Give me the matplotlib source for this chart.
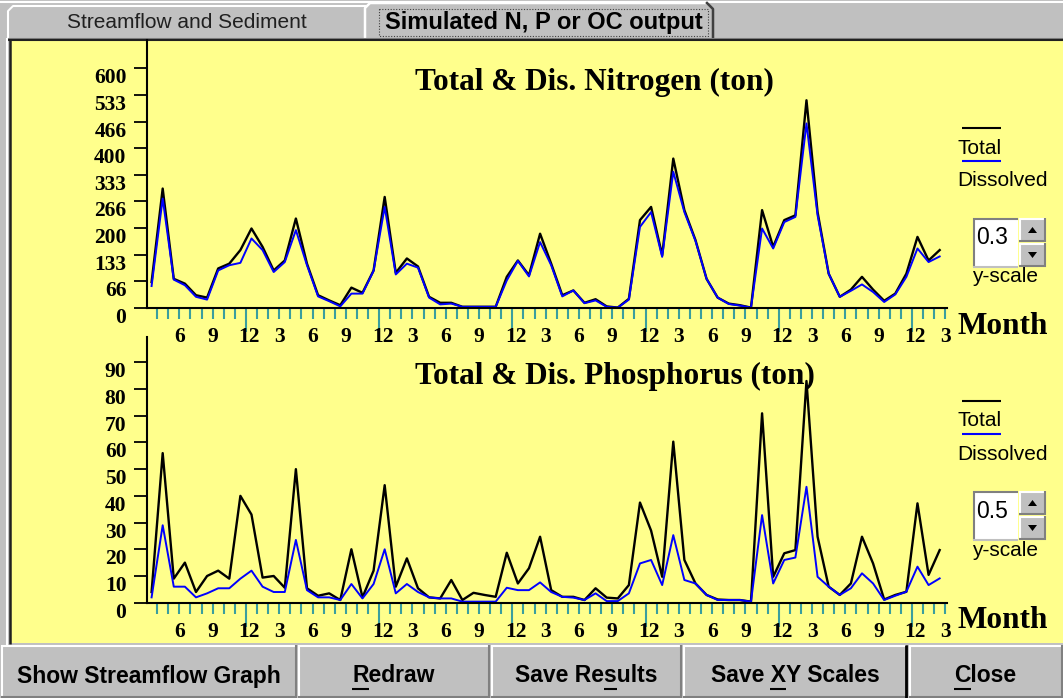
import numpy as np
import matplotlib
matplotlib.use('Agg')
import matplotlib.pyplot as plt
from matplotlib.patches import Rectangle, Polygon
import matplotlib.transforms as mtransforms
from matplotlib.font_manager import FontProperties

# monthly loads, April of year 1 to March of year 7 (72 months)
total_n = [65, 299, 73, 61, 32, 26, 99, 111, 145, 199,
           153, 94, 119, 224, 111, 32, 19, 7, 51, 38,
           94, 278, 88, 124, 104, 28, 13, 13, 3, 3,
           3, 3, 78, 119, 82, 186, 111, 32, 44, 13,
           22, 4, 1, 23, 220, 253, 132, 374, 245, 170,
           73, 26, 11, 7, 1, 245, 153, 220, 232, 520,
           240, 86, 28, 46, 78, 46, 18, 36, 86, 178,
           119, 145]
dis_n = [55, 274, 71, 57, 28, 21, 94, 107, 113, 174,
         145, 90, 115, 195, 107, 29, 17, 4, 36, 36,
         93, 253, 84, 111, 101, 26, 9, 11, 3, 3,
         3, 3, 69, 118, 79, 165, 107, 29, 44, 12,
         19, 3, 1, 21, 203, 240, 128, 341, 240, 168,
         73, 26, 10, 6, 1, 199, 149, 215, 228, 462,
         232, 86, 28, 43, 59, 40, 15, 34, 78, 149,
         115, 129]
total_p = [4, 56, 9, 15, 4, 10, 12, 9, 40, 33,
           9.4, 10, 5.6, 50, 5.4, 2.6, 3.5, 1, 20, 2,
           12, 44, 6, 16.6, 5.4, 2, 1.6, 8.5, 1, 3.7,
           2.9, 2.2, 18.7, 7.2, 12.9, 24.7, 4.7, 2.2, 2.2, 1,
           5.4, 1.9, 1.6, 6.6, 37.5, 27, 9.7, 60.3, 16, 7.2,
           2.9, 1.2, 1, 1, 0.4, 70.9, 9.7, 18.5, 19.7, 83,
           24.7, 6, 2.9, 7.2, 24.7, 14.7, 1.2, 2.9, 4.1, 37.2,
           10.4, 19.7]
dis_p = [2, 29, 6, 6, 2, 3.5, 5.4, 5.4, 9, 12,
         6, 4, 4, 23.5, 4.7, 2, 2, 1, 7, 1.6,
         7, 20, 3.5, 7, 4, 2, 1.6, 1.6, 0.4, 0.4,
         0.4, 0.4, 5.6, 4.7, 4.7, 7.6, 4, 2.2, 1.9, 1,
         3.5, 0.6, 0.6, 3.5, 14.7, 16, 6.6, 25.3, 8.5, 7.2,
         2.9, 1, 1, 1, 0.4, 32.8, 7.2, 16, 16.9, 43.4,
         9.7, 6, 2.9, 5.4, 11, 7.2, 1, 2.6, 4.1, 13.5,
         6.6, 9.1]
start_month = 4
labelled_months = [6, 9, 12, 3]
n_ylabels = ['0', '66', '133', '200', '266', '333', '400', '466', '533', '600']
p_ylabels = ['0', '10', '20', '30', '40', '50', '60', '70', '80', '90']
n_ymax, p_ymax = 600, 90

W, H = 1063, 698
GRAY = '#c0c0c0'
YELLOW = '#ffff8c'
TEAL = '#3a9e9e'
SERIF = 'Liberation Serif'
SANS = 'Liberation Sans'

fig = plt.figure(figsize=(W / 100, H / 100), dpi=100)
fig.patch.set_facecolor(GRAY)

# background axes in pixel coordinates for the window chrome
bg = fig.add_axes([0, 0, 1, 1])
bg.set_xlim(0, W)
bg.set_ylim(H, 0)
bg.axis('off')


def px_rect(x0, y0, x1, y1):
    return [x0 / W, 1 - y1 / H, (x1 - x0) / W, (y1 - y0) / H]


def hline(x0, x1, y, c, lw=1.0):
    bg.plot([x0, x1], [y, y], color=c, lw=lw, solid_capstyle='butt')


def vline(x, y0, y1, c, lw=1.0):
    bg.plot([x, x], [y0, y1], color=c, lw=lw, solid_capstyle='butt')


def raised(x0, y0, x1, y1):
    bg.add_patch(Rectangle((x0, y0), x1 - x0, y1 - y0, fc=GRAY, ec='none'))
    hline(x0, x1, y0 + 1, 'white', 1.5)
    vline(x0 + 1, y0, y1, 'white', 1.5)
    hline(x0, x1, y1 - 1, '#808080', 1.5)
    vline(x1 - 1, y0, y1, '#808080', 1.5)


# tabs
hline(0, W, 1.5, 'white', 1.5)
tab1 = Polygon([(8, 39), (8, 11), (13, 6), (365, 6), (370, 11), (370, 39)],
               closed=True, fc=GRAY, ec='#9a9a9a', lw=1.2)
bg.add_patch(tab1)
bg.plot([8, 8, 13, 365], [39, 11, 6, 6], color='white', lw=1.5)
tab2 = Polygon([(365, 39), (365, 8), (370, 3), (707, 3), (713, 9), (713, 39)],
               closed=True, fc=GRAY, ec='none')
bg.add_patch(tab2)
bg.plot([365, 365, 370, 707], [39, 8, 3, 3], color='white', lw=1.8)
bg.plot([707, 713, 713], [3, 9, 39], color='#404040', lw=1.8)
bg.text(187, 22, 'Streamflow and Sediment', ha='center', va='center',
        fontsize=15, family=SANS, color='#202020')
bg.text(544, 22, 'Simulated N, P or OC output', ha='center', va='center',
        fontsize=17, family=SANS, fontweight='bold', color='black')
bg.add_patch(Rectangle((379, 9), 329, 27, fill=False, ec='#404040',
                       lw=0.8, ls=(0, (1, 1.5))))

# yellow chart panel
bg.add_patch(Rectangle((10, 40), W - 10, 603, fc=YELLOW, ec='none'))
hline(8, W, 38.5, '#808080', 1.5)
hline(8, W, 40, '#202020', 1.5)
vline(7, 38, 645, 'white', 1.5)
vline(10, 39, 644, '#202020', 1.8)

# buttons
buttons = [('Show Streamflow Graph', 0, 297, None),
           ('Redraw', 297, 490, 0),
           ('Save Results', 490, 682, 7),
           ('Save XY Scales', 682, 908, 5),
           ('Close', 908, W, 0)]
for label, x0, x1, _ in buttons:
    raised(x0 + 1, 645, x1, H)
vline(906, 645, H, 'black', 2)

# chart builder
x = np.arange(len(total_n))
ticks_x = x + 0.5
months = [(start_month - 1 + k) % 12 + 1 for k in range(len(x))]
dec = [t for t, m in zip(ticks_x, months) if m == 12]
others = [t for t, m in zip(ticks_x, months) if m != 12]


def chart(total, dis, ymax, ylabels, top, zero_px, tick_px):
    ax = fig.add_axes(px_rect(146.7, top, 947, zero_px))
    ax.patch.set_alpha(0)
    px_per_unit = (zero_px - tick_px) / ymax
    ax.set_ylim(0, (zero_px - top) / px_per_unit)
    ax.set_xlim(-0.44, 71.66)
    ax.plot(x, total, color='black', lw=1.7)
    ax.plot(x, dis, color='#0000ff', lw=1.4)
    for s in ['top', 'right']:
        ax.spines[s].set_visible(False)
    ax.spines['left'].set_linewidth(1.5)
    ax.spines['bottom'].set_linewidth(1.5)
    ax.set_yticks(np.linspace(0, ymax, len(ylabels)))
    ax.set_yticklabels(ylabels, fontsize=15.5, family=SERIF, fontweight='bold', va='top')
    ax.tick_params(axis='y', length=9.6, width=1.3, pad=5, color='black')
    ax.set_xticks(dec)
    ax.set_xticks(others, minor=True)
    ax.set_xticklabels([])
    ax.tick_params(axis='x', which='major', length=17, width=1.5, color=TEAL)
    ax.tick_params(axis='x', which='minor', length=8, width=1.5, color=TEAL)
    tr = mtransforms.offset_copy(ax.get_xaxis_transform(), fig=fig, y=-29, units='dots')
    for t, m in zip(ticks_x, months):
        if m in labelled_months:
            ax.text(t + (0.3 if m == 12 else 0), 0, str(m), transform=tr,
                    ha='center', va='center', fontsize=15.5, family=SERIF,
                    fontweight='bold')
    return ax


ax_n = chart(total_n, dis_n, n_ymax, n_ylabels, 40, 308, 68.3)
ax_p = chart(total_p, dis_p, p_ymax, p_ylabels, 336.7, 602.7, 362.3)

# titles and month labels
bg.text(415, 82, 'Total & Dis. Nitrogen (ton)', ha='left', va='center',
        fontsize=22.5, family=SERIF, fontweight='bold')
bg.text(415, 376, 'Total & Dis. Phosphorus (ton)', ha='left', va='center',
        fontsize=22.5, family=SERIF, fontweight='bold')
for my in [327, 621]:
    bg.text(957, my, 'Month', ha='left', va='center', fontsize=22.5,
            family=SERIF, fontweight='bold')

# legends and y-scale spin boxes
for dy, val in [(0, '0.3'), (273, '0.5')]:
    hline(962, 1001, 128 + dy, 'black', 1.5)
    bg.text(958, 148 + dy, 'Total', ha='left', va='center', fontsize=15, family=SANS)
    hline(962, 1001, 161 + dy, '#0000ff', 1.5)
    bg.text(957, 181 + dy, 'Dissolved', ha='left', va='center', fontsize=15, family=SANS)
    bg.add_patch(Rectangle((973, 218 + dy), 45, 49, fc='white', ec='none'))
    hline(973, 1018, 218.5 + dy, '#808080', 1.5)
    vline(973.5, 218 + dy, 267 + dy, '#808080', 1.5)
    hline(973, 1018, 266.5 + dy, GRAY, 1.5)
    bg.text(976, 238 + dy, val, ha='left', va='center', fontsize=16.5, family=SANS)
    raised(1019, 218 + dy, 1046, 242 + dy)
    raised(1019, 243 + dy, 1046, 267 + dy)
    bg.add_patch(Polygon([(1028, 233 + dy), (1037, 233 + dy), (1032.5, 227 + dy)],
                         closed=True, fc='black', ec='none'))
    bg.add_patch(Polygon([(1028, 252 + dy), (1037, 252 + dy), (1032.5, 258 + dy)],
                         closed=True, fc='black', ec='none'))
    bg.text(1005, 277 + dy, 'y-scale', ha='center', va='center', fontsize=15, family=SANS)

# button captions with underlined access keys
fig.canvas.draw()
renderer = fig.canvas.get_renderer()
bfont = FontProperties(family=SANS, weight='bold', size=16.5)
for label, x0, x1, ul in buttons:
    cx = (x0 + x1) / 2
    bg.text(cx, 676, label, ha='center', va='center', fontproperties=bfont)
    if ul is not None:
        full = renderer.get_text_width_height_descent(label, bfont, ismath=False)[0]
        pre = renderer.get_text_width_height_descent(label[:ul], bfont, ismath=False)[0] if ul else 0
        upto = renderer.get_text_width_height_descent(label[:ul + 1], bfont, ismath=False)[0]
        left = cx - full / 2
        hline(left + pre, left + upto, 689, 'black', 1.5)

fig.savefig('out.png', dpi=100, facecolor=fig.get_facecolor())
